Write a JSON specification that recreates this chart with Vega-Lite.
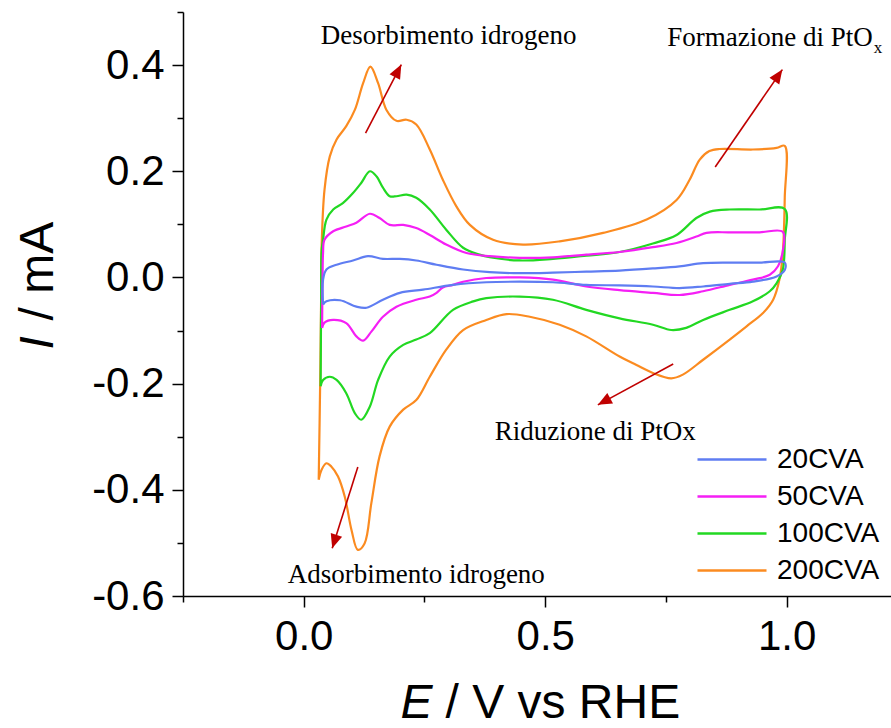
{
  "$schema": "https://vega.github.io/schema/vega-lite/v6.json",
  "width": 708,
  "height": 584,
  "autosize": "none",
  "padding": {"left": 183, "top": 12, "right": 0, "bottom": 132},
  "background": "white",
  "config": {
    "view": {"stroke": null},
    "axis": {"grid": false, "domainColor": "black", "tickColor": "black", "labelColor": "black", "titleColor": "black", "labelFont": "Liberation Sans", "titleFont": "Liberation Sans", "domainWidth": 1.5, "tickWidth": 1.5}
  },
  "datasets": {
    "cv": [
      {"s":"200CVA","i":1,"x":0.031,"y":-0.381},{"s":"200CVA","i":2,"x":0.034,"y":-0.2},{"s":"200CVA","i":3,"x":0.036,"y":-0.04},{"s":"200CVA","i":4,"x":0.037,"y":0.058},{"s":"200CVA","i":5,"x":0.043,"y":0.165},{"s":"200CVA","i":6,"x":0.054,"y":0.228},{"s":"200CVA","i":7,"x":0.068,"y":0.26},{"s":"200CVA","i":8,"x":0.088,"y":0.285},{"s":"200CVA","i":9,"x":0.106,"y":0.316},{"s":"200CVA","i":10,"x":0.123,"y":0.366},{"s":"200CVA","i":11,"x":0.138,"y":0.397},{"s":"200CVA","i":12,"x":0.154,"y":0.366},{"s":"200CVA","i":13,"x":0.171,"y":0.316},{"s":"200CVA","i":14,"x":0.192,"y":0.295},{"s":"200CVA","i":15,"x":0.213,"y":0.297},{"s":"200CVA","i":16,"x":0.233,"y":0.288},{"s":"200CVA","i":17,"x":0.261,"y":0.241},{"s":"200CVA","i":18,"x":0.288,"y":0.184},{"s":"200CVA","i":19,"x":0.316,"y":0.134},{"s":"200CVA","i":20,"x":0.344,"y":0.099},{"s":"200CVA","i":21,"x":0.392,"y":0.071},{"s":"200CVA","i":22,"x":0.454,"y":0.062},{"s":"200CVA","i":23,"x":0.53,"y":0.068},{"s":"200CVA","i":24,"x":0.62,"y":0.084},{"s":"200CVA","i":25,"x":0.71,"y":0.109},{"s":"200CVA","i":26,"x":0.772,"y":0.146},{"s":"200CVA","i":27,"x":0.799,"y":0.184},{"s":"200CVA","i":28,"x":0.82,"y":0.222},{"s":"200CVA","i":29,"x":0.84,"y":0.238},{"s":"200CVA","i":30,"x":0.861,"y":0.242},{"s":"200CVA","i":31,"x":0.93,"y":0.241},{"s":"200CVA","i":32,"x":0.979,"y":0.244},{"s":"200CVA","i":33,"x":0.996,"y":0.248},{"s":"200CVA","i":34,"x":0.996,"y":0.15},{"s":"200CVA","i":35,"x":0.992,"y":0.047},{"s":"200CVA","i":36,"x":0.985,"y":-0.004},{"s":"200CVA","i":37,"x":0.972,"y":-0.042},{"s":"200CVA","i":38,"x":0.951,"y":-0.067},{"s":"200CVA","i":39,"x":0.917,"y":-0.092},{"s":"200CVA","i":40,"x":0.882,"y":-0.117},{"s":"200CVA","i":41,"x":0.827,"y":-0.155},{"s":"200CVA","i":42,"x":0.785,"y":-0.183},{"s":"200CVA","i":43,"x":0.761,"y":-0.19},{"s":"200CVA","i":44,"x":0.723,"y":-0.18},{"s":"200CVA","i":45,"x":0.689,"y":-0.165},{"s":"200CVA","i":46,"x":0.654,"y":-0.149},{"s":"200CVA","i":47,"x":0.585,"y":-0.111},{"s":"200CVA","i":48,"x":0.53,"y":-0.089},{"s":"200CVA","i":49,"x":0.468,"y":-0.074},{"s":"200CVA","i":50,"x":0.42,"y":-0.069},{"s":"200CVA","i":51,"x":0.378,"y":-0.08},{"s":"200CVA","i":52,"x":0.33,"y":-0.099},{"s":"200CVA","i":53,"x":0.295,"y":-0.136},{"s":"200CVA","i":54,"x":0.261,"y":-0.187},{"s":"200CVA","i":55,"x":0.233,"y":-0.231},{"s":"200CVA","i":56,"x":0.206,"y":-0.249},{"s":"200CVA","i":57,"x":0.178,"y":-0.281},{"s":"200CVA","i":58,"x":0.157,"y":-0.337},{"s":"200CVA","i":59,"x":0.14,"y":-0.425},{"s":"200CVA","i":60,"x":0.126,"y":-0.501},{"s":"200CVA","i":61,"x":0.112,"y":-0.513},{"s":"200CVA","i":62,"x":0.099,"y":-0.476},{"s":"200CVA","i":63,"x":0.085,"y":-0.413},{"s":"200CVA","i":64,"x":0.071,"y":-0.375},{"s":"200CVA","i":65,"x":0.057,"y":-0.356},{"s":"200CVA","i":66,"x":0.047,"y":-0.35},{"s":"200CVA","i":67,"x":0.037,"y":-0.362},{"s":"200CVA","i":68,"x":0.031,"y":-0.381},
      {"s":"100CVA","i":1,"x":0.035,"y":-0.205},{"s":"100CVA","i":2,"x":0.036,"y":-0.05},{"s":"100CVA","i":3,"x":0.037,"y":0.05},{"s":"100CVA","i":4,"x":0.04,"y":0.071},{"s":"100CVA","i":5,"x":0.047,"y":0.109},{"s":"100CVA","i":6,"x":0.061,"y":0.128},{"s":"100CVA","i":7,"x":0.081,"y":0.14},{"s":"100CVA","i":8,"x":0.102,"y":0.159},{"s":"100CVA","i":9,"x":0.119,"y":0.178},{"s":"100CVA","i":10,"x":0.137,"y":0.2},{"s":"100CVA","i":11,"x":0.151,"y":0.19},{"s":"100CVA","i":12,"x":0.164,"y":0.169},{"s":"100CVA","i":13,"x":0.178,"y":0.153},{"s":"100CVA","i":14,"x":0.192,"y":0.153},{"s":"100CVA","i":15,"x":0.213,"y":0.156},{"s":"100CVA","i":16,"x":0.233,"y":0.15},{"s":"100CVA","i":17,"x":0.261,"y":0.128},{"s":"100CVA","i":18,"x":0.295,"y":0.09},{"s":"100CVA","i":19,"x":0.33,"y":0.056},{"s":"100CVA","i":20,"x":0.364,"y":0.043},{"s":"100CVA","i":21,"x":0.385,"y":0.038},{"s":"100CVA","i":22,"x":0.447,"y":0.032},{"s":"100CVA","i":23,"x":0.516,"y":0.035},{"s":"100CVA","i":24,"x":0.585,"y":0.041},{"s":"100CVA","i":25,"x":0.654,"y":0.048},{"s":"100CVA","i":26,"x":0.723,"y":0.064},{"s":"100CVA","i":27,"x":0.772,"y":0.08},{"s":"100CVA","i":28,"x":0.813,"y":0.112},{"s":"100CVA","i":29,"x":0.841,"y":0.124},{"s":"100CVA","i":30,"x":0.882,"y":0.128},{"s":"100CVA","i":31,"x":0.944,"y":0.128},{"s":"100CVA","i":32,"x":0.996,"y":0.129},{"s":"100CVA","i":33,"x":0.996,"y":0.07},{"s":"100CVA","i":34,"x":0.992,"y":0.015},{"s":"100CVA","i":35,"x":0.979,"y":-0.011},{"s":"100CVA","i":36,"x":0.965,"y":-0.026},{"s":"100CVA","i":37,"x":0.93,"y":-0.045},{"s":"100CVA","i":38,"x":0.882,"y":-0.061},{"s":"100CVA","i":39,"x":0.827,"y":-0.08},{"s":"100CVA","i":40,"x":0.792,"y":-0.095},{"s":"100CVA","i":41,"x":0.761,"y":-0.099},{"s":"100CVA","i":42,"x":0.723,"y":-0.089},{"s":"100CVA","i":43,"x":0.654,"y":-0.077},{"s":"100CVA","i":44,"x":0.585,"y":-0.061},{"s":"100CVA","i":45,"x":0.516,"y":-0.042},{"s":"100CVA","i":46,"x":0.447,"y":-0.036},{"s":"100CVA","i":47,"x":0.378,"y":-0.039},{"s":"100CVA","i":48,"x":0.351,"y":-0.045},{"s":"100CVA","i":49,"x":0.309,"y":-0.061},{"s":"100CVA","i":50,"x":0.261,"y":-0.105},{"s":"100CVA","i":51,"x":0.233,"y":-0.117},{"s":"100CVA","i":52,"x":0.206,"y":-0.127},{"s":"100CVA","i":53,"x":0.178,"y":-0.149},{"s":"100CVA","i":54,"x":0.154,"y":-0.193},{"s":"100CVA","i":55,"x":0.137,"y":-0.243},{"s":"100CVA","i":56,"x":0.119,"y":-0.268},{"s":"100CVA","i":57,"x":0.106,"y":-0.256},{"s":"100CVA","i":58,"x":0.088,"y":-0.218},{"s":"100CVA","i":59,"x":0.068,"y":-0.193},{"s":"100CVA","i":60,"x":0.054,"y":-0.187},{"s":"100CVA","i":61,"x":0.04,"y":-0.193},{"s":"100CVA","i":62,"x":0.035,"y":-0.205},
      {"s":"50CVA","i":1,"x":0.038,"y":-0.095},{"s":"50CVA","i":2,"x":0.039,"y":0.0},{"s":"50CVA","i":3,"x":0.04,"y":0.046},{"s":"50CVA","i":4,"x":0.043,"y":0.071},{"s":"50CVA","i":5,"x":0.061,"y":0.087},{"s":"50CVA","i":6,"x":0.088,"y":0.096},{"s":"50CVA","i":7,"x":0.109,"y":0.103},{"s":"50CVA","i":8,"x":0.137,"y":0.12},{"s":"50CVA","i":9,"x":0.157,"y":0.112},{"s":"50CVA","i":10,"x":0.178,"y":0.099},{"s":"50CVA","i":11,"x":0.206,"y":0.099},{"s":"50CVA","i":12,"x":0.233,"y":0.093},{"s":"50CVA","i":13,"x":0.261,"y":0.08},{"s":"50CVA","i":14,"x":0.295,"y":0.062},{"s":"50CVA","i":15,"x":0.337,"y":0.046},{"s":"50CVA","i":16,"x":0.385,"y":0.04},{"s":"50CVA","i":17,"x":0.447,"y":0.037},{"s":"50CVA","i":18,"x":0.516,"y":0.038},{"s":"50CVA","i":19,"x":0.585,"y":0.043},{"s":"50CVA","i":20,"x":0.654,"y":0.048},{"s":"50CVA","i":21,"x":0.723,"y":0.057},{"s":"50CVA","i":22,"x":0.772,"y":0.065},{"s":"50CVA","i":23,"x":0.813,"y":0.077},{"s":"50CVA","i":24,"x":0.834,"y":0.084},{"s":"50CVA","i":25,"x":0.882,"y":0.085},{"s":"50CVA","i":26,"x":0.944,"y":0.085},{"s":"50CVA","i":27,"x":0.992,"y":0.086},{"s":"50CVA","i":28,"x":0.992,"y":0.05},{"s":"50CVA","i":29,"x":0.982,"y":0.021},{"s":"50CVA","i":30,"x":0.965,"y":0.005},{"s":"50CVA","i":31,"x":0.93,"y":-0.004},{"s":"50CVA","i":32,"x":0.882,"y":-0.014},{"s":"50CVA","i":33,"x":0.827,"y":-0.026},{"s":"50CVA","i":34,"x":0.778,"y":-0.033},{"s":"50CVA","i":35,"x":0.723,"y":-0.029},{"s":"50CVA","i":36,"x":0.654,"y":-0.024},{"s":"50CVA","i":37,"x":0.585,"y":-0.017},{"s":"50CVA","i":38,"x":0.516,"y":-0.004},{"s":"50CVA","i":39,"x":0.447,"y":0.0},{"s":"50CVA","i":40,"x":0.378,"y":-0.001},{"s":"50CVA","i":41,"x":0.33,"y":-0.008},{"s":"50CVA","i":42,"x":0.309,"y":-0.014},{"s":"50CVA","i":43,"x":0.288,"y":-0.019},{"s":"50CVA","i":44,"x":0.275,"y":-0.029},{"s":"50CVA","i":45,"x":0.261,"y":-0.036},{"s":"50CVA","i":46,"x":0.233,"y":-0.042},{"s":"50CVA","i":47,"x":0.192,"y":-0.055},{"s":"50CVA","i":48,"x":0.164,"y":-0.074},{"s":"50CVA","i":49,"x":0.14,"y":-0.102},{"s":"50CVA","i":50,"x":0.123,"y":-0.119},{"s":"50CVA","i":51,"x":0.109,"y":-0.111},{"s":"50CVA","i":52,"x":0.088,"y":-0.086},{"s":"50CVA","i":53,"x":0.061,"y":-0.08},{"s":"50CVA","i":54,"x":0.043,"y":-0.085},{"s":"50CVA","i":55,"x":0.038,"y":-0.095},
      {"s":"20CVA","i":1,"x":0.04,"y":-0.051},{"s":"20CVA","i":2,"x":0.04,"y":-0.004},{"s":"20CVA","i":3,"x":0.047,"y":0.015},{"s":"20CVA","i":4,"x":0.068,"y":0.024},{"s":"20CVA","i":5,"x":0.102,"y":0.032},{"s":"20CVA","i":6,"x":0.133,"y":0.04},{"s":"20CVA","i":7,"x":0.164,"y":0.035},{"s":"20CVA","i":8,"x":0.199,"y":0.035},{"s":"20CVA","i":9,"x":0.233,"y":0.032},{"s":"20CVA","i":10,"x":0.275,"y":0.024},{"s":"20CVA","i":11,"x":0.33,"y":0.015},{"s":"20CVA","i":12,"x":0.385,"y":0.01},{"s":"20CVA","i":13,"x":0.447,"y":0.008},{"s":"20CVA","i":14,"x":0.516,"y":0.009},{"s":"20CVA","i":15,"x":0.585,"y":0.011},{"s":"20CVA","i":16,"x":0.654,"y":0.013},{"s":"20CVA","i":17,"x":0.723,"y":0.017},{"s":"20CVA","i":18,"x":0.778,"y":0.021},{"s":"20CVA","i":19,"x":0.827,"y":0.027},{"s":"20CVA","i":20,"x":0.882,"y":0.028},{"s":"20CVA","i":21,"x":0.944,"y":0.028},{"s":"20CVA","i":22,"x":0.996,"y":0.028},{"s":"20CVA","i":23,"x":0.996,"y":0.014},{"s":"20CVA","i":24,"x":0.979,"y":0.002},{"s":"20CVA","i":25,"x":0.93,"y":-0.008},{"s":"20CVA","i":26,"x":0.882,"y":-0.012},{"s":"20CVA","i":27,"x":0.827,"y":-0.017},{"s":"20CVA","i":28,"x":0.778,"y":-0.02},{"s":"20CVA","i":29,"x":0.723,"y":-0.017},{"s":"20CVA","i":30,"x":0.654,"y":-0.015},{"s":"20CVA","i":31,"x":0.585,"y":-0.014},{"s":"20CVA","i":32,"x":0.516,"y":-0.009},{"s":"20CVA","i":33,"x":0.447,"y":-0.008},{"s":"20CVA","i":34,"x":0.378,"y":-0.009},{"s":"20CVA","i":35,"x":0.309,"y":-0.014},{"s":"20CVA","i":36,"x":0.247,"y":-0.023},{"s":"20CVA","i":37,"x":0.199,"y":-0.029},{"s":"20CVA","i":38,"x":0.164,"y":-0.042},{"s":"20CVA","i":39,"x":0.13,"y":-0.057},{"s":"20CVA","i":40,"x":0.109,"y":-0.055},{"s":"20CVA","i":41,"x":0.075,"y":-0.043},{"s":"20CVA","i":42,"x":0.047,"y":-0.045},{"s":"20CVA","i":43,"x":0.04,"y":-0.051}
    ],
    "arrows": [
      {"x": 0.128, "y": 0.272, "x2": 0.202, "y2": 0.401},
      {"x": 0.852, "y": 0.208, "x2": 0.991, "y2": 0.3915},
      {"x": 0.765, "y": -0.163, "x2": 0.609, "y2": -0.24},
      {"x": 0.112, "y": -0.357, "x2": 0.059, "y2": -0.51}
    ],
    "notes": [
      {"x": 0.3, "y": 0.4405, "t": "Desorbimento idrogeno"},
      {"x": 0.6035, "y": -0.306, "t": "Riduzione di PtOx"},
      {"x": 0.233, "y": -0.576, "t": "Adsorbimento idrogeno"}
    ],
    "pto": [{"x": 1.178, "y": 0.4355, "t": "Formazione di PtO"}],
    "sub": [{"x": 1.178, "y": 0.423, "t": "x"}]
  },
  "layer": [
    {
      "data": {"name": "cv"},
      "mark": {"type": "line", "strokeWidth": 2.2, "interpolate": "catmull-rom"},
      "encoding": {
        "x": {"field": "x", "type": "quantitative", "scale": {"domain": [-0.25, 1.216], "nice": false, "zero": false},
          "axis": {"orient": "bottom", "values": [0, 0.5, 1], "format": ".1f", "tickSize": 11, "labelFontSize": 42, "labelPadding": 9, "labelFlush": false, "labelOverlap": false, "title": "E", "titleFontStyle": "italic", "titleFontWeight": "normal", "titleFontSize": 48, "titleX": 217, "titleY": 121, "titleAlign": "left", "titleBaseline": "alphabetic"}},
        "y": {"field": "y", "type": "quantitative", "scale": {"domain": [-0.6, 0.5], "nice": false, "zero": false},
          "axis": {"orient": "left", "values": [-0.6, -0.4, -0.2, 0, 0.2, 0.4], "labelExpr": "replace(format(datum.value, '.1f'), '\u2212', '-')", "tickSize": 11, "labelFontSize": 42, "labelPadding": 8, "labelFlush": false, "labelOverlap": false, "title": "I", "titleFontStyle": "italic", "titleFontWeight": "normal", "titleFontSize": 48, "titleAngle": 270, "titleX": -131, "titleY": 337, "titleAlign": "left", "titleBaseline": "alphabetic"}},
        "order": {"field": "i", "type": "quantitative"},
        "color": {"field": "s", "type": "nominal",
          "scale": {"domain": ["20CVA", "50CVA", "100CVA", "200CVA"], "range": ["#5f7df2", "#f51ff5", "#22d822", "#fb8b20"]},
          "legend": {"orient": "none", "legendX": 513, "legendY": 429, "title": null, "symbolType": "stroke", "symbolSize": 4761, "symbolStrokeWidth": 2.5, "clipHeight": 37, "rowPadding": 0, "labelFontSize": 28, "labelFont": "Liberation Sans", "labelColor": "black", "labelOffset": 9, "padding": 0}}
      }
    },
    {
      "data": {"name": "arrows"},
      "mark": {"type": "rule", "color": "#c00000", "strokeWidth": 1.6},
      "encoding": {
        "x": {"field": "x", "type": "quantitative", "scale": {"domain": [-0.25, 1.216], "nice": false, "zero": false},
          "axis": {"orient": "bottom", "values": [-0.25, 0.25, 0.75], "labels": false, "domain": false, "tickSize": 6, "title": "/ V vs RHE", "titleFontWeight": "normal", "titleFontSize": 48, "titleX": 262, "titleY": 121, "titleAlign": "left", "titleBaseline": "alphabetic"}},
        "y": {"field": "y", "type": "quantitative", "scale": {"domain": [-0.6, 0.5], "nice": false, "zero": false},
          "axis": {"orient": "left", "values": [-0.5, -0.3, -0.1, 0.1, 0.3, 0.5], "labels": false, "domain": false, "tickSize": 6, "title": "/ mA", "titleFontWeight": "normal", "titleFontSize": 48, "titleAngle": 270, "titleX": -131, "titleY": 308, "titleAlign": "left", "titleBaseline": "alphabetic"}},
        "x2": {"field": "x2"},
        "y2": {"field": "y2"}
      }
    },
    {
      "data": {"name": "arrows"},
      "transform": [{"calculate": "atan2((datum.x2 - datum.x) * 483, (datum.y2 - datum.y) * 530.5) * 180 / PI", "as": "ang"}],
      "mark": {"type": "point", "shape": "M0,0L0.85,2L-0.85,2Z", "filled": true, "color": "#c00000", "size": 196, "opacity": 1},
      "encoding": {
        "x": {"field": "x2", "type": "quantitative", "scale": {"domain": [-0.25, 1.216], "nice": false, "zero": false}, "axis": null},
        "y": {"field": "y2", "type": "quantitative", "scale": {"domain": [-0.6, 0.5], "nice": false, "zero": false}, "axis": null},
        "angle": {"field": "ang", "type": "quantitative", "scale": null}
      }
    },
    {
      "data": {"name": "notes"},
      "mark": {"type": "text", "font": "Liberation Serif", "fontSize": 27, "baseline": "alphabetic", "align": "center", "color": "black"},
      "encoding": {
        "x": {"field": "x", "type": "quantitative", "scale": {"domain": [-0.25, 1.216], "nice": false, "zero": false}, "axis": null},
        "y": {"field": "y", "type": "quantitative", "scale": {"domain": [-0.6, 0.5], "nice": false, "zero": false}, "axis": null},
        "text": {"field": "t"}
      }
    },
    {
      "data": {"name": "pto"},
      "mark": {"type": "text", "font": "Liberation Serif", "fontSize": 27, "baseline": "alphabetic", "align": "right", "color": "black"},
      "encoding": {
        "x": {"field": "x", "type": "quantitative", "scale": {"domain": [-0.25, 1.216], "nice": false, "zero": false}, "axis": null},
        "y": {"field": "y", "type": "quantitative", "scale": {"domain": [-0.6, 0.5], "nice": false, "zero": false}, "axis": null},
        "text": {"field": "t"}
      }
    },
    {
      "data": {"name": "sub"},
      "mark": {"type": "text", "font": "Liberation Serif", "fontSize": 17, "baseline": "alphabetic", "align": "left", "dx": 1, "color": "black"},
      "encoding": {
        "x": {"field": "x", "type": "quantitative", "scale": {"domain": [-0.25, 1.216], "nice": false, "zero": false}, "axis": null},
        "y": {"field": "y", "type": "quantitative", "scale": {"domain": [-0.6, 0.5], "nice": false, "zero": false}, "axis": null},
        "text": {"field": "t"}
      }
    }
  ],
  "resolve": {"axis": {"x": "independent", "y": "independent"}}
}
